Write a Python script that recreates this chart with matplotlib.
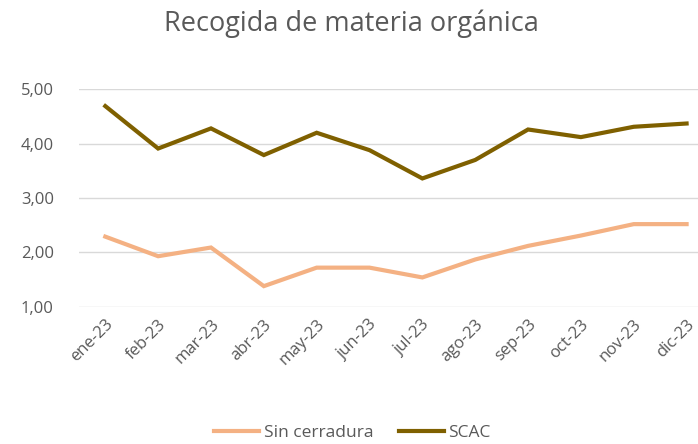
import matplotlib
matplotlib.use("Agg")
import matplotlib.pyplot as plt
from matplotlib.ticker import FuncFormatter

plt.rcParams['font.family'] = ['Open Sans', 'DejaVu Sans']

months = ["ene-23", "feb-23", "mar-23", "abr-23", "may-23", "jun-23",
          "jul-23", "ago-23", "sep-23", "oct-23", "nov-23", "dic-23"]
sin_cerradura = [2.29, 1.93, 2.09, 1.38, 1.72, 1.72, 1.54, 1.87, 2.12, 2.31, 2.52, 2.52]
scac = [4.69, 3.91, 4.28, 3.79, 4.20, 3.88, 3.36, 3.70, 4.26, 4.12, 4.31, 4.37]
yticks = [1, 2, 3, 4, 5]

fig = plt.figure(figsize=(6.98, 4.44), dpi=100)
ax = fig.add_axes([0.113, 0.309, 0.9085, 0.490])

x = list(range(len(months)))
ax.plot(x, sin_cerradura, color="#F4B183", lw=3.0, label="Sin cerradura", solid_joinstyle="miter")
ax.plot(x, scac, color="#7F6000", lw=3.0, label="SCAC", solid_joinstyle="miter")

ax.set_xlim(-0.5, len(months) - 0.5)
ax.set_ylim(1, 5)
ax.set_yticks(yticks)
ax.yaxis.set_major_formatter(FuncFormatter(lambda v, p: f"{v:.2f}".replace(".", ",")))
ax.set_xticks(x)
ax.set_xticklabels(months, rotation=45, ha="right", rotation_mode="anchor")
ax.grid(axis="y", color="#D9D9D9", lw=1)
ax.set_axisbelow(True)
for s in ax.spines.values():
    s.set_visible(False)
ax.tick_params(axis="both", length=0, colors="#595959", labelsize=12)
ax.tick_params(axis="y", pad=18)
ax.tick_params(axis="x", pad=7)

fig.text(0.504, 0.947, "Recogida de materia orgánica", ha="center", va="center",
         fontsize=19.5, color="#595959")

leg = fig.legend(loc="center", bbox_to_anchor=(0.505, 0.025), ncol=2, frameon=False,
                 fontsize=12.5, handlelength=2.6, columnspacing=1.5, handletextpad=0.25)
for t in leg.get_texts():
    t.set_color("#595959")

fig.savefig("out.png", dpi=100)
